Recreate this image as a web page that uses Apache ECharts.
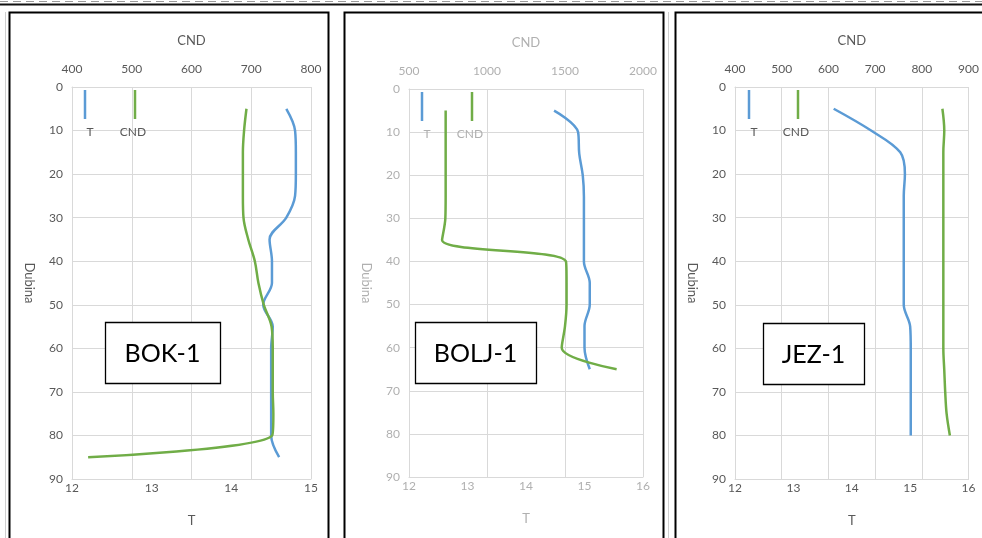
<!DOCTYPE html>
<html>
<head>
<meta charset="utf-8">
<script src="https://cdn.jsdelivr.net/npm/echarts@6/dist/echarts.min.js"></script>
<style>
  html, body { margin: 0; padding: 0; background: #fff; }
  #chart { width: 982px; height: 538px; }
</style>
</head>
<body>
<div id="chart"></div>
<script>
// Well names
const wellNames = ['BOK-1', 'BOLJ-1', 'JEZ-1'];

// BOK-1 profile: depth (m), temperature T (°C), conductivity CND
const bokDepth = [5, 10, 15, 20, 25, 30, 35, 40, 45, 50, 55, 60, 65, 70, 75, 80, 85];
const bokT     = [14.69, 14.80, 14.81, 14.81, 14.80, 14.69, 14.48, 14.51, 14.51, 14.40, 14.52, 14.50, 14.50, 14.50, 14.50, 14.50, 14.60];
const bokCND   = [692, 688, 686, 686, 686, 687, 695, 706, 712, 721, 734, 736, 736, 736, 737, 735, 427];

// BOLJ-1 profile
const boljDepth = [5, 10, 15, 20, 25, 30, 35, 40, 45, 50, 55, 60, 65];
const boljT     = [14.48, 14.89, 14.91, 14.97, 14.99, 14.99, 14.99, 14.99, 15.09, 15.09, 15.00, 15.00, 15.09];
const boljCND   = [735, 735, 735, 735, 735, 733, 712, 1506, 1510, 1510, 1500, 1479, 1831];

// JEZ-1 profile
const jezDepth = [5, 10, 15, 20, 25, 30, 35, 40, 45, 50, 55, 60, 65, 70, 75, 80];
const jezT     = [13.69, 14.33, 14.83, 14.91, 14.89, 14.89, 14.89, 14.89, 14.89, 14.89, 15.00, 15.01, 15.01, 15.01, 15.01, 15.01];
const jezCND   = [844, 848, 846, 846, 846, 846, 846, 846, 846, 846, 846, 846, 848, 850, 853, 860];

// Axis ranges per panel
const cndRanges = [[400, 800, 100], [500, 2000, 500], [400, 900, 100]];
const tRanges   = [[12, 15, 1], [12, 16, 1], [12, 16, 1]];
const depthRange = [0, 90, 10];

const wells = [
  { depth: bokDepth,  t: bokT,  cnd: bokCND },
  { depth: boljDepth, t: boljT, cnd: boljCND },
  { depth: jezDepth,  t: jezT,  cnd: jezCND }
];

const BLUE = '#5b9bd5';
const GREEN = '#70ad47';
const FONT = 'Lato, "Liberation Sans", sans-serif';
const plain = v => String(v);
const panels = [
  { grid: { left: 72,  top: 87, width: 239, height: 392 }, frame: [9.5, 328.5], legend: [85, 135],  box: [105, 322, 115, 61], faint: false },
  { grid: { left: 409, top: 89, width: 234, height: 388 }, frame: [344.5, 663.5], legend: [422, 472], box: [415, 322, 121, 61], faint: true },
  { grid: { left: 735, top: 87, width: 240, height: 392 }, frame: [675.5, 995], legend: [749, 798], box: [763, 323, 101, 61], faint: false }
];

const grids = [], xAxes = [], yAxes = [], series = [], graphics = [];

panels.forEach((p, i) => {
  const txt = p.faint ? '#b0b0b0' : '#595959';
  const grid = p.grid;
  grids.push(Object.assign({ containLabel: false }, grid));

  // top axis: conductivity
  xAxes.push({
    type: 'value', gridIndex: i, position: 'top',
    min: cndRanges[i][0], max: cndRanges[i][1], interval: cndRanges[i][2],
    name: 'CND', nameLocation: 'middle', nameGap: 40,
    nameTextStyle: { color: txt, fontFamily: FONT, fontSize: 13 },
    axisLine: { show: true, lineStyle: { color: '#d9d9d9' } },
    axisTick: { show: false },
    axisLabel: { color: txt, fontFamily: FONT, fontSize: 12, margin: 12, formatter: plain },
    splitLine: { show: true, lineStyle: { color: '#d9d9d9', width: 1 } }
  });
  // bottom axis: temperature
  xAxes.push({
    type: 'value', gridIndex: i, position: 'bottom',
    min: tRanges[i][0], max: tRanges[i][1], interval: tRanges[i][2],
    name: 'T', nameLocation: 'middle', nameGap: 35,
    nameTextStyle: { color: txt, fontFamily: FONT, fontSize: 13 },
    axisLine: { show: true, lineStyle: { color: '#d9d9d9' } },
    axisTick: { show: false },
    axisLabel: { color: txt, fontFamily: FONT, fontSize: 12, margin: 3, formatter: plain },
    splitLine: { show: false }
  });
  // depth axis
  yAxes.push({
    type: 'value', gridIndex: i, inverse: true,
    min: depthRange[0], max: depthRange[1], interval: depthRange[2],
    name: 'Dubina', nameLocation: 'middle', nameGap: 36, nameRotate: -90,
    nameTextStyle: { color: txt, fontFamily: FONT, fontSize: 13 },
    axisLine: { show: true, lineStyle: { color: '#d9d9d9' } },
    axisTick: { show: false },
    axisLabel: { color: txt, fontFamily: FONT, fontSize: 12, margin: 9, formatter: plain },
    splitLine: { show: true, lineStyle: { color: '#d9d9d9', width: 1 } }
  });

  const w = wells[i];
  series.push({
    name: 'T', type: 'line', xAxisIndex: 2 * i + 1, yAxisIndex: i,
    data: w.depth.map((d, k) => [w.t[k], d]),
    smooth: 0.35, showSymbol: false, symbol: 'none',
    lineStyle: { color: BLUE, width: 2.5 }, itemStyle: { color: BLUE },
    animation: false
  });
  series.push({
    name: 'CND', type: 'line', xAxisIndex: 2 * i, yAxisIndex: i,
    data: w.depth.map((d, k) => [w.cnd[k], d]),
    smooth: 0.35, showSymbol: false, symbol: 'none',
    lineStyle: { color: GREEN, width: 2.5 }, itemStyle: { color: GREEN },
    animation: false
  });

  // legend: short vertical swatches with labels underneath
  const ly = grid.top + 3;
  [[p.legend[0], BLUE, 'T', 5], [p.legend[1], GREEN, 'CND', -2]].forEach(([lx, col, label, dx]) => {
    graphics.push({ type: 'line', z: 10, shape: { x1: lx, y1: ly, x2: lx, y2: ly + 29 }, style: { stroke: col, lineWidth: 2.5 } });
    graphics.push({ type: 'text', z: 10, x: lx + dx, y: ly + 42,
      style: { text: label, fill: txt, font: '12px ' + FONT, textAlign: 'center', textVerticalAlign: 'middle' } });
  });

  // panel frame
  graphics.push({ type: 'rect', z: 20,
    shape: { x: p.frame[0], y: 12.5, width: p.frame[1] - p.frame[0], height: 540 },
    style: { fill: 'none', stroke: '#000', lineWidth: 2 } });

  // well name box
  const b = p.box;
  graphics.push({ type: 'rect', z: 15, shape: { x: b[0] + 0.5, y: b[1] + 0.5, width: b[2], height: b[3] },
    style: { fill: '#fff', stroke: '#000', lineWidth: 1.3 } });
  graphics.push({ type: 'text', z: 16, x: b[0] + b[2] / 2, y: b[1] + b[3] / 2 + 1,
    style: { text: wellNames[i], fill: '#000', font: '25px ' + FONT, textAlign: 'center', textVerticalAlign: 'middle' } });
});

// page rules around the panels
graphics.push({ type: 'line', z: 20, shape: { x1: 0, y1: 1.5, x2: 982, y2: 1.5 }, style: { stroke: '#9a9a9a', lineWidth: 1, lineDash: [8, 5] } });
graphics.push({ type: 'line', z: 20, shape: { x1: 0, y1: 4.5, x2: 982, y2: 4.5 }, style: { stroke: '#111', lineWidth: 2 } });
graphics.push({ type: 'line', z: 20, shape: { x1: 5.5, y1: 12, x2: 5.5, y2: 538 }, style: { stroke: '#cfcfcf', lineWidth: 1 } });
graphics.push({ type: 'line', z: 20, shape: { x1: 668.5, y1: 12, x2: 668.5, y2: 538 }, style: { stroke: '#cfcfcf', lineWidth: 1 } });

const chart = echarts.init(document.getElementById('chart'), null, { renderer: 'canvas' });
chart.setOption({
  animation: false,
  backgroundColor: '#fff',
  textStyle: { fontFamily: FONT },
  grid: grids,
  xAxis: xAxes,
  yAxis: yAxes,
  series: series,
  graphic: graphics
});
</script>
</body>
</html>
